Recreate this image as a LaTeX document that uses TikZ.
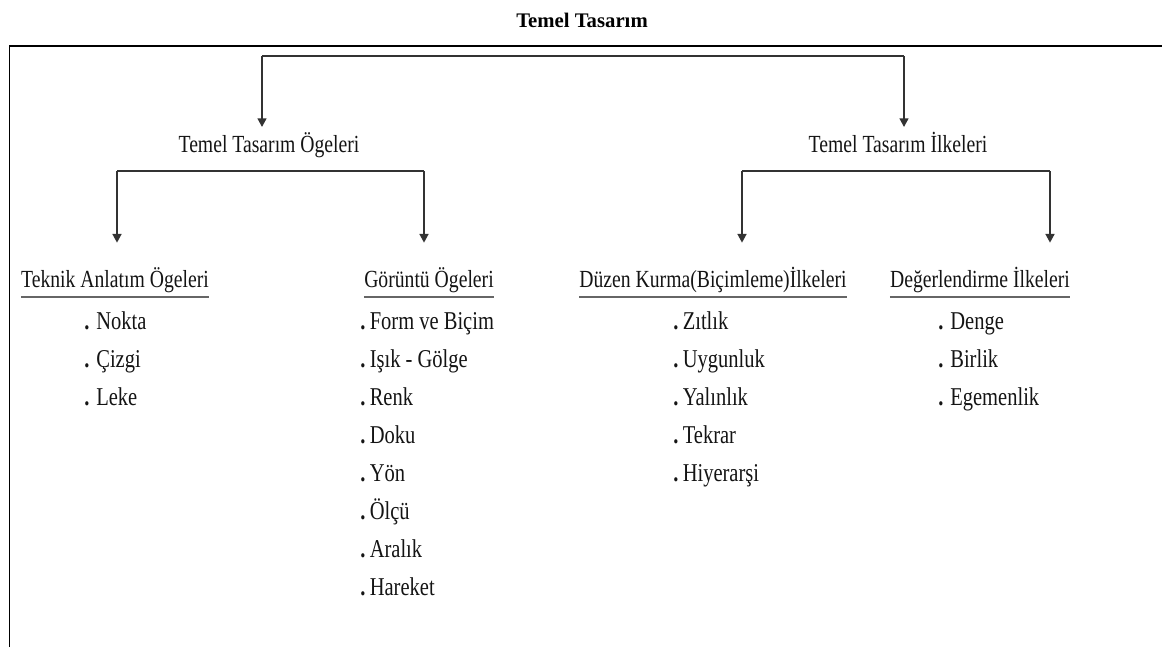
\documentclass[tikz,border=0pt]{standalone}
\usepackage{fontspec}
\setmainfont{Liberation Serif}[FakeStretch=0.8]
\newfontfamily\baslikfont{Liberation Serif}
\usetikzlibrary{positioning, calc, arrows.meta}

\begin{document}
\begin{tikzpicture}[
    x=0.02cm, y=-0.02cm,
    % stiller
    yazi/.style={inner sep=2pt, text=black!92, font=\fontsize{14}{16}\selectfont,
                 text height=12pt, text depth=3.5pt},
    ust/.style={yazi, anchor=base},
    alt/.style={yazi, anchor=base, inner xsep=0pt},
    madde/.style={yazi, anchor=base west, inner xsep=0pt, font=\fontsize{14.6}{16}\selectfont},
    hat/.style={draw=black!80, line width=1.2pt},
    ok/.style={hat, -{Triangle[width=5pt,length=5pt]}},
    ok2/.style={ok, shorten >=11pt},
    cizgi/.style={draw=black!60, line width=1.2pt},
    cerceve/.style={draw=black, line width=0.9pt}
]
\useasboundingbox (0,0) rectangle (1162,647);

% --- ayarlar ---
\def\satir{38}   % maddeler arası
\def\ilk{291}    % ilk maddenin taban çizgisi - \satir

% --- başlık ve çerçeve ---
\node[inner sep=0pt, anchor=base, font=\baslikfont\bfseries\fontsize{11.8}{13}\selectfont] (baslik) at (582,27) {Temel Tasarım};
\draw[cerceve] (9.5,647) -- (9.5,46) -- (1162,46);

% --- düğümler ---

% 1. ana dallar
\node[ust] (ogeler) at (269,152) {Temel Tasarım Ögeleri};
\node[ust] (ilkeler) at (898,152) {Temel Tasarım İlkeleri};

% 2. alt başlıklar
\node[alt] (teknik) at (115,287) {Teknik Anlatım Ögeleri};
\node[alt] (goruntu) at (429,287) {Görüntü Ögeleri};
\node[alt] (duzen) at (713,287) {Düzen Kurma(Biçimleme)İlkeleri};
\node[alt] (deger) at (980,287) {Değerlendirme İlkeleri};

% 3. maddeler
\foreach \m [count=\i] in {Nokta, Çizgi, Leke}
    \node[madde] (tk-\i) at (84, {\ilk+\satir*\i}) {\textbf{.} \m};
\foreach \m [count=\i] in {Form ve Biçim, Işık - Gölge, Renk, Doku, Yön, Ölçü, Aralık, Hareket}
    \node[madde] (go-\i) at (360, {\ilk+\satir*\i}) {\textbf{.}\,\m};
\foreach \m [count=\i] in {Zıtlık, Uygunluk, Yalınlık, Tekrar, Hiyerarşi}
    \node[madde] (du-\i) at (673, {\ilk+\satir*\i}) {\textbf{.}\,\m};
\foreach \m [count=\i] in {Denge, Birlik, Egemenlik}
    \node[madde] (de-\i) at (938, {\ilk+\satir*\i}) {\textbf{.} \m};

% --- alt çizgiler ---
\foreach \n in {teknik, goruntu, duzen, deger}
    \draw[cizgi] ([yshift=-5.6pt]\n.base west) -- ([yshift=-5.6pt]\n.base east);

% --- bağlantılar ---

% kök -> ana dallar
\coordinate (k-sol) at (262,56);
\coordinate (k-sag) at (904,56);
\draw[hat] (k-sol) -- (k-sag);
\draw[ok] (k-sol) -- (k-sol |- ogeler.north);
\draw[ok] (k-sag) -- (k-sag |- ilkeler.north);

% ögeler -> alt başlıklar
\coordinate (o-sol) at (117,171);
\coordinate (o-sag) at (424,171);
\draw[hat] (o-sol) -- (o-sag);
\draw[ok2] (o-sol) -- (o-sol |- teknik.north);
\draw[ok2] (o-sag) -- (o-sag |- goruntu.north);

% ilkeler -> alt başlıklar
\coordinate (i-sol) at (742,171);
\coordinate (i-sag) at (1050,171);
\draw[hat] (i-sol) -- (i-sag);
\draw[ok2] (i-sol) -- (i-sol |- duzen.north);
\draw[ok2] (i-sag) -- (i-sag |- deger.north);

\end{tikzpicture}
\end{document}
